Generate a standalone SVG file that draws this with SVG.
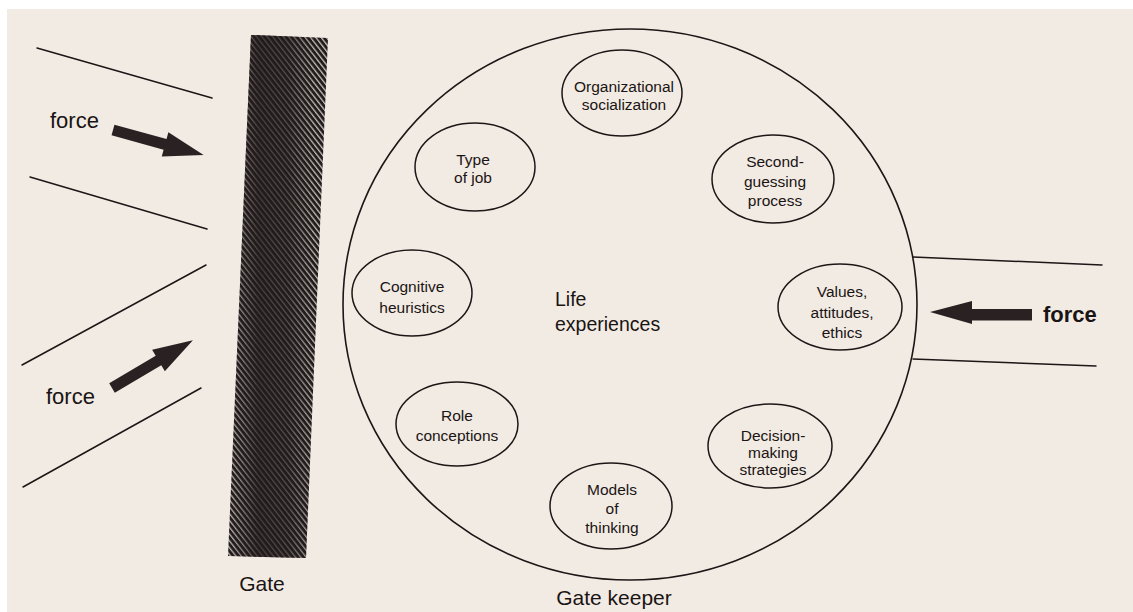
<svg xmlns="http://www.w3.org/2000/svg" width="1133" height="612" viewBox="0 0 1133 612">
  <defs>
    <style>
      .ln { stroke: #1c1616; stroke-width: 1.5; fill: none; stroke-linecap: round; }
      .node ellipse { fill: none; stroke: #1c1616; stroke-width: 1.5; }
      .node text { font-family: "Liberation Sans", Arial, sans-serif; font-size: 15.5px; fill: #1a1414; text-anchor: middle; }
      .lbl { font-family: "Liberation Sans", Arial, sans-serif; fill: #1a1414; }
      .arrow { fill: #2a2222; }
    </style>
    <!-- thick force arrow, pointing along +x from its tail -->
    <path id="forceArrow" d="M0,-5.5 L54,-5.5 L54,-12.5 L94,0 L54,12.5 L54,5.5 L0,5.5 Z"/>
    <!-- diagonal hatching of the gate bar -->
    <pattern id="hatch" patternUnits="userSpaceOnUse" width="4.2" height="4.2" patternTransform="rotate(52)">
      <rect width="4.2" height="4.2" fill="#231c1c"/>
      <line x1="0" y1="1" x2="4.2" y2="1" stroke="#f0ebe6" stroke-width="1.1"/>
    </pattern>
    <linearGradient id="gateShade" x1="0" y1="0" x2="1" y2="0">
      <stop offset="0" stop-color="#221b1b" stop-opacity="0.05"/>
      <stop offset="0.3" stop-color="#221b1b" stop-opacity="0.8"/>
      <stop offset="0.6" stop-color="#221b1b" stop-opacity="0.7"/>
      <stop offset="0.85" stop-color="#221b1b" stop-opacity="0.1"/>
      <stop offset="1" stop-color="#221b1b" stop-opacity="0"/>
    </linearGradient>
  </defs>

  <!-- paper -->
  <rect width="1133" height="612" fill="#ffffff"/>
  <rect x="7" y="9" width="1126" height="603" fill="#f2ebe3"/>

  <!-- gate bar -->
  <g id="gate">
    <polygon points="251,35 328,38 306,558 228,556" fill="url(#hatch)"/>
    <polygon points="251,35 328,38 306,558 228,556" fill="url(#gateShade)"/>
    <text class="lbl" x="262" y="591" font-size="21" text-anchor="middle">Gate</text>
  </g>

  <!-- channels and forces -->
  <g id="connectors">
    <line class="ln" x1="37" y1="48" x2="212" y2="98"/>
    <line class="ln" x1="30" y1="177" x2="207" y2="229"/>
    <line class="ln" x1="206" y1="265" x2="22" y2="365"/>
    <line class="ln" x1="201" y1="388" x2="23" y2="487"/>
    <line class="ln" x1="913" y1="257" x2="1102" y2="265"/>
    <line class="ln" x1="913" y1="359" x2="1096" y2="366"/>
    <use href="#forceArrow" class="arrow" transform="translate(113,130) rotate(15.4)"/>
    <use href="#forceArrow" class="arrow" transform="translate(112,388) rotate(-30.6)"/>
    <polygon class="arrow" points="930,312 972,301 972,309 1032,309 1032,320.5 972,320.5 972,324"/>
  </g>

  <g id="force-labels">
    <text class="lbl" x="50" y="128" font-size="22">force</text>
    <text class="lbl" x="46" y="404" font-size="22">force</text>
    <text class="lbl" x="1043" y="322" font-size="22" font-weight="bold">force</text>
  </g>

  <!-- gate keeper -->
  <g id="gatekeeper">
    <ellipse cx="630" cy="304.5" rx="287" ry="275.5" fill="none" stroke="#1c1616" stroke-width="1.6"/>
    <text class="lbl" x="614" y="605" font-size="21" text-anchor="middle">Gate keeper</text>
    <text class="lbl" x="555" y="306" font-size="19.5">Life</text>
    <text class="lbl" x="555" y="331" font-size="19.5">experiences</text>
  </g>

  <g id="organizational-socialization" class="node">
    <ellipse cx="622" cy="93" rx="60" ry="43"/>
    <text x="624" y="92">Organizational</text>
    <text x="624" y="110">socialization</text>
  </g>

  <g id="type-of-job" class="node">
    <ellipse cx="475" cy="167" rx="60" ry="44"/>
    <text x="473" y="165">Type</text>
    <text x="473" y="183">of job</text>
  </g>

  <g id="second-guessing" class="node">
    <ellipse cx="773" cy="179" rx="61" ry="44"/>
    <text x="775" y="167">Second-</text>
    <text x="775" y="187">guessing</text>
    <text x="775" y="206">process</text>
  </g>

  <g id="cognitive-heuristics" class="node">
    <ellipse cx="412" cy="293" rx="60" ry="43"/>
    <text x="412" y="292">Cognitive</text>
    <text x="412" y="313">heuristics</text>
  </g>

  <g id="values" class="node">
    <ellipse cx="840" cy="307" rx="62" ry="43"/>
    <text x="842" y="297">Values,</text>
    <text x="842" y="318">attitudes,</text>
    <text x="842" y="338">ethics</text>
  </g>

  <g id="role-conceptions" class="node">
    <ellipse cx="457" cy="424" rx="61" ry="42"/>
    <text x="457" y="421">Role</text>
    <text x="457" y="441">conceptions</text>
  </g>

  <g id="decision-making" class="node">
    <ellipse cx="770" cy="446" rx="62" ry="42"/>
    <text x="773" y="441">Decision-</text>
    <text x="773" y="458">making</text>
    <text x="773" y="475">strategies</text>
  </g>

  <g id="models-of-thinking" class="node">
    <ellipse cx="611" cy="506" rx="61" ry="43"/>
    <text x="612" y="495">Models</text>
    <text x="612" y="514">of</text>
    <text x="612" y="533">thinking</text>
  </g>
</svg>
